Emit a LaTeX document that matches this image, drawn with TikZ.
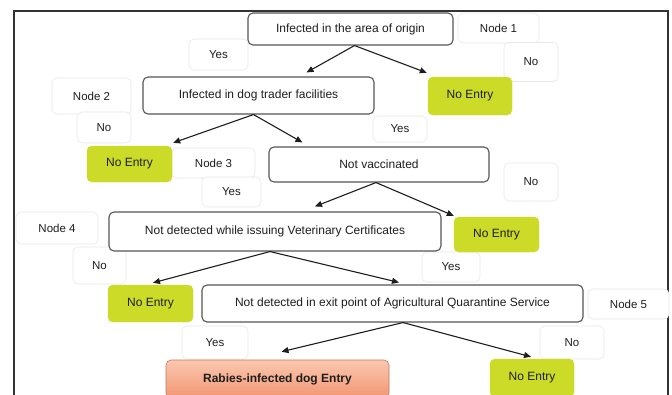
\documentclass[tikz,border=0pt]{standalone}
\usepackage{fontspec}
\setmainfont{Liberation Sans}
\usetikzlibrary{arrows.meta,calc}
\definecolor{boxline}{RGB}{85,85,85}
\definecolor{entrygreen}{RGB}{204,218,40}
\definecolor{labline}{RGB}{232,232,232}
\definecolor{orangetop}{RGB}{250,200,175}
\definecolor{orangebot}{RGB}{242,150,115}
\definecolor{txt}{RGB}{30,30,30}
\tikzset{
  qbox/.style={draw=boxline, line width=1.1pt, rounded corners=5pt, fill=white, inner sep=0pt,
    font=\fontsize{12}{14}\selectfont, text=txt},
  nobox/.style={fill=entrygreen, draw=entrygreen, rounded corners=5pt, inner sep=0pt,
    font=\fontsize{12}{14}\selectfont, text=txt},
  endbox/.style={draw=orangebot!80!black, line width=0.6pt, rounded corners=5pt, inner sep=0pt,
    top color=orangetop, bottom color=orangebot,
    font=\bfseries\fontsize{12}{14}\selectfont, text=txt},
  lab/.style={draw=labline, line width=0.6pt, rounded corners=5pt, fill=white, inner sep=0pt,
    font=\fontsize{11.5}{13}\selectfont, text=txt},
  arr/.style={draw=txt, line width=1.1pt, -{Triangle[length=7pt,width=6pt]}},
  frame/.style={draw=gray!40!black, line width=1.8pt}
}
\begin{document}
\begin{tikzpicture}[x=1pt,y=-1pt]
\useasboundingbox (0,0) rectangle (672,394);
\fill[white] (0,0) rectangle (672,394);
\draw[frame] (14,11) rectangle (668,420);

% labels
\node[lab, minimum width=81pt, minimum height=30pt] (n1) at (498.5,28) {Node 1};
\node[lab, minimum width=54pt, minimum height=39pt] (no1) at (531,62) {No};
\node[lab, minimum width=59pt, minimum height=31pt] (yes1) at (218.5,54.5) {Yes};
\node[lab, minimum width=79pt, minimum height=36pt] (n2) at (91.5,96) {Node 2};
\node[lab, minimum width=54pt, minimum height=31pt] (no2) at (104,127.5) {No};
\node[lab, minimum width=54pt, minimum height=26pt] (yes2) at (400,129) {Yes};
\node[lab, minimum width=83pt, minimum height=30pt] (n3) at (213.5,163) {Node 3};
\node[lab, minimum width=59pt, minimum height=30pt] (yes3) at (231.5,192) {Yes};
\node[lab, minimum width=54pt, minimum height=38pt] (no3) at (531,182) {No};
\node[lab, minimum width=82pt, minimum height=32pt] (n4) at (57,228) {Node 4};
\node[lab, minimum width=53pt, minimum height=37pt] (no4) at (99.5,265.5) {No};
\node[lab, minimum width=58pt, minimum height=30pt] (yes4) at (451,267) {Yes};
\node[lab, minimum width=81pt, minimum height=30pt] (n5) at (628.5,304) {Node 5};
\node[lab, minimum width=64pt, minimum height=33pt] (no5) at (572,342.5) {No};
\node[lab, minimum width=66pt, minimum height=33pt] (yes5) at (215,342.5) {Yes};

% main boxes
\node[qbox, minimum width=205pt, minimum height=32pt] (q1) at (350.5,29) {Infected in the area of origin};
\node[qbox, minimum width=231pt, minimum height=37pt] (q2) at (258.5,95.5) {Infected in dog trader facilities};
\node[nobox, minimum width=84pt, minimum height=38pt] (ne1) at (470,96) {No Entry};
\node[nobox, minimum width=85pt, minimum height=36pt] (ne2) at (129.5,164) {No Entry};
\node[qbox, minimum width=220pt, minimum height=35pt] (q3) at (379,164.5) {Not vaccinated};
\node[qbox, minimum width=332pt, minimum height=39pt] (q4) at (275,231.5) {Not detected while issuing Veterinary Certificates};
\node[nobox, minimum width=85pt, minimum height=35pt] (ne3) at (496.5,234.5) {No Entry};
\node[nobox, minimum width=85pt, minimum height=37pt] (ne4) at (150.5,303.5) {No Entry};
\node[qbox, minimum width=381pt, minimum height=37pt] (q5) at (392.5,303.5) {Not detected in exit point of Agricultural Quarantine Service};
\node[endbox, minimum width=223pt, minimum height=38pt] (rab) at (277.5,379) {Rabies-infected dog Entry};
\node[nobox, minimum width=84pt, minimum height=38pt] (ne5) at (532,378) {No Entry};

% connectors
\draw[arr] ([xshift=4pt]q1.south) -- ([xshift=48pt,yshift=4pt]q2.north);
\draw[arr] ([xshift=4pt]q1.south) -- ([xshift=-1pt,yshift=4pt]ne1.north west);
\draw[arr] ([xshift=-5pt]q2.south) -- ([xshift=1pt,yshift=3pt]ne2.north east);
\draw[arr] ([xshift=-5pt]q2.south) -- ([xshift=34pt,yshift=4pt]q3.north west);
\draw[arr] ([xshift=-3pt]q3.south) -- ([xshift=40pt,yshift=5pt]q4.north);
\draw[arr] ([xshift=-3pt]q3.south) -- ([xshift=0pt,yshift=1pt]ne3.north west);
\draw[arr] ([xshift=-5pt]q4.south) -- ([xshift=2.5pt,yshift=2pt]ne4.north);
\draw[arr] ([xshift=-5pt]q4.south) -- ([xshift=6.5pt,yshift=2pt]q5.north);
\draw[arr] ([xshift=10.5pt]q5.south) -- ([xshift=4pt,yshift=8pt]rab.north);
\draw[arr] ([xshift=10.5pt]q5.south) -- ([xshift=-1pt,yshift=2pt]ne5.north);
\end{tikzpicture}
\end{document}
